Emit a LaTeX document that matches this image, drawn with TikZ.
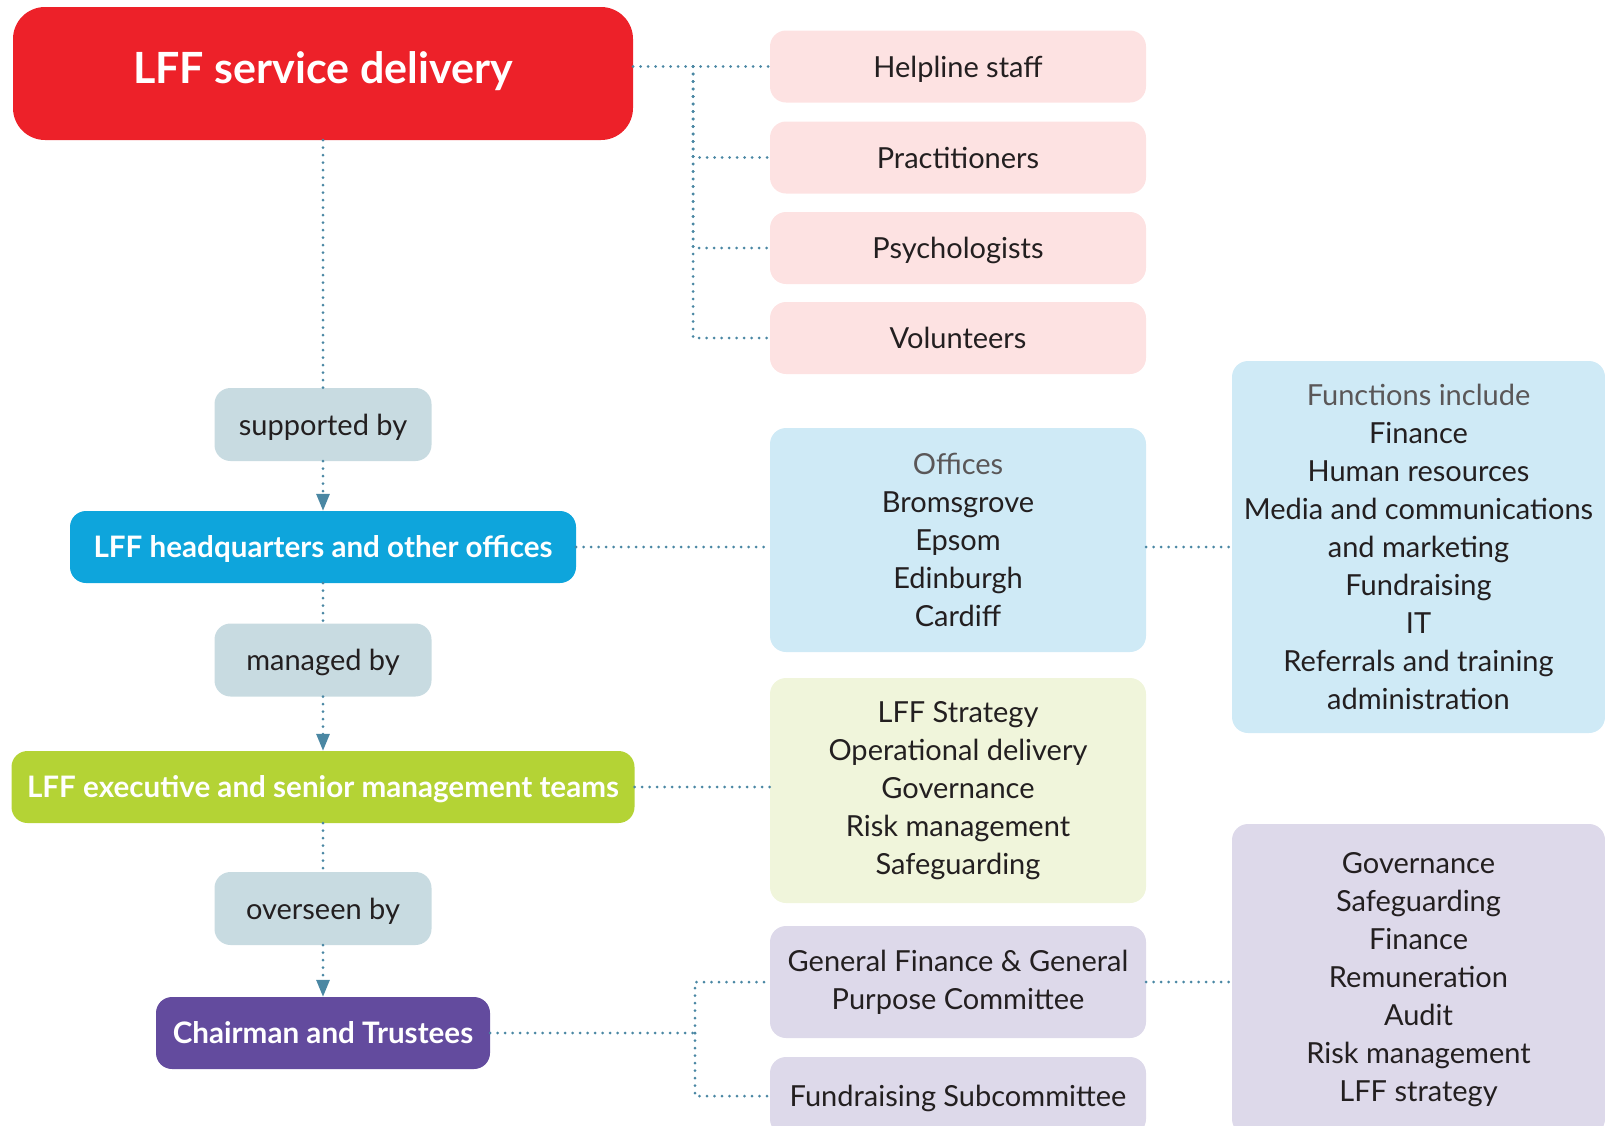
\documentclass[tikz,border=0pt]{standalone}
\usepackage{fontspec}
\setmainfont{Lato}
\usetikzlibrary{arrows.meta,positioning}

\definecolor{lffred}{HTML}{ED2129}
\definecolor{lffpink}{HTML}{FDE2E2}
\definecolor{lffgrey}{HTML}{C8DBE1}
\definecolor{lffblue}{HTML}{0EA5DC}
\definecolor{lffpaleblue}{HTML}{CFEAF6}
\definecolor{lffgreen}{HTML}{B4D335}
\definecolor{lffpalegreen}{HTML}{F0F5DB}
\definecolor{lffpurple}{HTML}{634B9E}
\definecolor{lffpalepurple}{HTML}{DDD9EA}
\definecolor{linkblue}{HTML}{4A87A3}
\definecolor{textdark}{HTML}{231F20}

\begin{document}
\begin{tikzpicture}[x=1pt,y=-1pt,>={Triangle[length=17pt,width=13pt]},
  every node/.style={font=\fontsize{29}{38}\selectfont, align=center, inner sep=0pt, text=textdark},
  box/.style={rounded corners=16pt, minimum height=72pt},
  oneline/.style={text height=21pt, text depth=0pt},
  head/.style={box, oneline, text=white, font=\bfseries\fontsize{29.6}{38}\selectfont},
  side/.style={box, minimum width=376pt},
  label/.style={box, oneline, fill=lffgrey, minimum width=217pt, minimum height=73pt},
  link/.style={draw=linkblue, line width=3pt, dash pattern=on 0pt off 7.5pt, line cap=round}]
  \clip (0,0) rectangle (1605,1125);

  % main column
  \node [head, fill=lffred, minimum width=620pt, minimum height=133pt, rounded corners=32pt,
         text height=31pt, text depth=12pt,
         font=\bfseries\fontsize{43}{50}\selectfont] (svc) at (323,73.5) {LFF service delivery};
  \node [label] (sup) at (323,424.5) {supported by};
  \node [head, fill=lffblue, minimum width=506pt] (hq) at (323,547) {LFF headquarters and other offices};
  \node [label] (mgd) at (323,660) {managed by};
  \node [head, fill=lffgreen, minimum width=623pt] (exec) at (323,787) {LFF executive and senior management teams};
  \node [label] (ovr) at (323,908.5) {overseen by};
  \node [head, fill=lffpurple, minimum width=334pt] (trust) at (323,1033) {Chairman and Trustees};

  % staff
  \foreach \name/\y/\txt in {help/66.5/Helpline staff, prac/157.5/Practitioners,
                             psych/248/Psychologists, vol/338/Volunteers}
    \node [side, oneline, fill=lffpink] (\name) at (958,\y) {\txt};

  % middle column
  \node [side, fill=lffpaleblue, minimum height=224pt] (offices) at (958,540)
    {\textcolor{textdark!75}{Offices}\\Bromsgrove\\Epsom\\Edinburgh\\Cardiff};
  \node [side, fill=lffpalegreen, minimum height=225pt] (strat) at (958,790.5)
    {LFF Strategy\\Operational delivery\\Governance\\Risk management\\Safeguarding};
  \node [side, fill=lffpalepurple, minimum height=112pt] (gfc) at (958,982)
    {General Finance \& General\\Purpose Committee};
  \node [side, oneline, fill=lffpalepurple, minimum height=78pt] (fsc) at (958,1096) {Fundraising Subcommittee};

  % right column
  \node [box, fill=lffpaleblue, minimum width=373pt, minimum height=372pt] (funcs) at (1418.5,547)
    {\textcolor{textdark!75}{Functions include}\\Finance\\Human resources\\Media and communications\\and marketing\\Fundraising\\IT\\Referrals and training\\administration};
  \node [box, fill=lffpalepurple, minimum width=373pt, minimum height=311pt] (gov) at (1418.5,979.5)
    {Governance\\Safeguarding\\Finance\\Remuneration\\Audit\\Risk management\\LFF strategy};

  % connectors
  \draw [link] (svc) -- (sup);
  \draw [link,->] (sup) -- (hq);
  \draw [link] (hq) -- (mgd);
  \draw [link,->] (mgd) -- (exec);
  \draw [link] (exec) -- (ovr);
  \draw [link,->] (ovr) -- (trust);

  \draw [link] (svc.east |- help) -- (help);
  \coordinate (fork) at (693,66.5);
  \foreach \n in {prac,psych,vol}
    \draw [link] (fork) |- (\n);

  \draw [link] (hq) -- (hq -| offices.west);
  \draw [link] (offices.east |- funcs) -- (funcs);
  \draw [link] (exec) -- (exec -| strat.west);

  \coordinate (split) at (695,1033);
  \draw [link] (trust) -- (split);
  \draw [link] (split) |- (gfc);
  \draw [link] (split) |- (fsc.west);
  \draw [link] (gfc) -- (gfc -| gov.west);

\end{tikzpicture}
\end{document}
